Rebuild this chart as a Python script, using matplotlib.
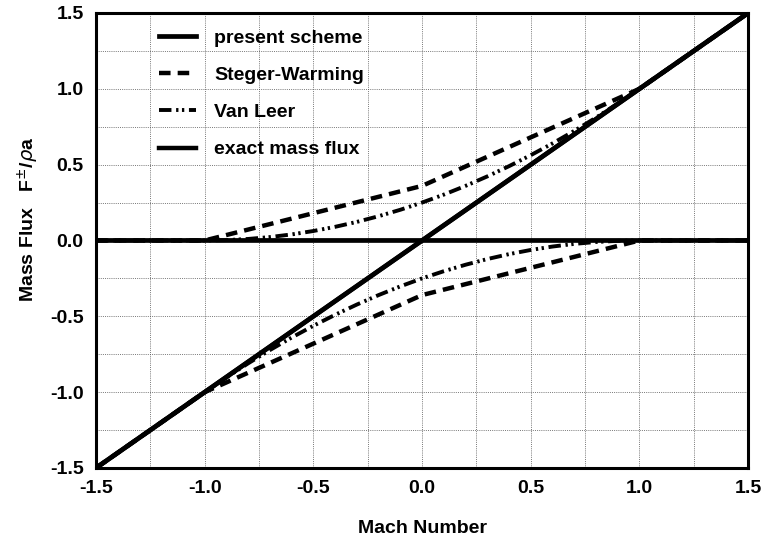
import matplotlib
matplotlib.use("Agg")
import matplotlib.pyplot as plt
from matplotlib.ticker import MultipleLocator

plt.rcParams['font.family'] = ['Liberation Sans', 'DejaVu Sans']

# Mach number samples
mach_edges = [-1.5, -1.0, 0.0, 1.0, 1.5]
mach_vl = [-1.5, -1.0, -0.9, -0.8, -0.7, -0.6, -0.5, -0.4, -0.3, -0.2, -0.1,
           0.0, 0.1, 0.2, 0.3, 0.4, 0.5, 0.6, 0.7, 0.8, 0.9, 1.0, 1.5]
mach_present = [-1.5, 0.0, 1.5]

# present scheme: split mass flux
present_plus = [0.0, 0.0, 1.5]
present_minus = [-1.5, 0.0, 0.0]

# Steger-Warming split mass flux
sw_plus = [0.0, 0.0, 0.36, 1.0, 1.5]
sw_minus = [-1.5, -1.0, -0.36, 0.0, 0.0]

# Van Leer split mass flux
vl_plus = [0.0, 0.0, 0.0025, 0.01, 0.0225, 0.04, 0.0625, 0.09, 0.1225, 0.16, 0.2025,
           0.25, 0.3025, 0.36, 0.4225, 0.49, 0.5625, 0.64, 0.7225, 0.81, 0.9025, 1.0, 1.5]
vl_minus = [-1.5, -1.0, -0.9025, -0.81, -0.7225, -0.64, -0.5625, -0.49, -0.4225, -0.36,
            -0.3025, -0.25, -0.2025, -0.16, -0.1225, -0.09, -0.0625, -0.04, -0.0225,
            -0.01, -0.0025, 0.0, 0.0]

# exact mass flux
exact_mach = [-1.5, 1.5]
exact_flux = [-1.5, 1.5]

fig = plt.figure(figsize=(7.65, 5.41), dpi=100)
ax = fig.add_axes([0.1255, 0.135, 0.8525, 0.841])

lw = 2.8
fs = 14
sw_dash = (0, (2.6, 1.6))
vl_dash = (0, (3.2, 1.2, 0.6, 0.9, 0.6, 1.2))

ax.plot(mach_edges, sw_plus, color='black', lw=lw + 0.4, ls=sw_dash, label='Steger-Warming')
ax.plot(mach_edges, sw_minus, color='black', lw=lw + 0.4, ls=sw_dash)
ax.plot(mach_vl, vl_plus, color='black', lw=lw, ls=vl_dash, label='Van Leer')
ax.plot(mach_vl, vl_minus, color='black', lw=lw, ls=vl_dash)
ax.plot(exact_mach, exact_flux, color='black', lw=lw + 0.4, label='exact mass flux')
ax.plot(mach_present, present_plus, color='black', lw=lw + 0.6, label='present scheme')
ax.plot(mach_present, present_minus, color='black', lw=lw + 0.6)

ax.set_xlim(-1.5, 1.5)
ax.set_ylim(-1.5, 1.5)
ax.xaxis.set_major_locator(MultipleLocator(0.5))
ax.yaxis.set_major_locator(MultipleLocator(0.5))
ax.xaxis.set_minor_locator(MultipleLocator(0.25))
ax.yaxis.set_minor_locator(MultipleLocator(0.25))
ax.xaxis.set_major_formatter(plt.FormatStrFormatter('%.1f'))
ax.yaxis.set_major_formatter(plt.FormatStrFormatter('%.1f'))
ax.grid(which='both', color='#555555', lw=0.7, ls=(0, (1, 1.2)), alpha=0.8)
ax.tick_params(which='both', length=0)
ax.tick_params(axis='x', pad=9, labelsize=fs)
ax.tick_params(axis='y', pad=9, labelsize=fs)
for lab in ax.get_xticklabels() + ax.get_yticklabels():
    lab.set_fontweight('bold')
for sp in ax.spines.values():
    sp.set_linewidth(2.2)

ax.set_xlabel('Mach Number', fontsize=fs, fontweight='bold', labelpad=16)
ax.set_ylabel('Mass Flux   F$^{\\pm}$/$\\rho$a', fontsize=fs, fontweight='bold')
ax.yaxis.set_label_coords(-0.085, 0.547)

handles, labels = ax.get_legend_handles_labels()
order = [3, 0, 1, 2]
leg = ax.legend([handles[i] for i in order], [labels[i] for i in order],
                loc='upper left', bbox_to_anchor=(0.07, 1.002), frameon=False,
                handlelength=1.9, handletextpad=0.93, labelspacing=1.0,
                prop={'size': fs, 'weight': 'bold'})

fig.savefig('out.png', dpi=100)
